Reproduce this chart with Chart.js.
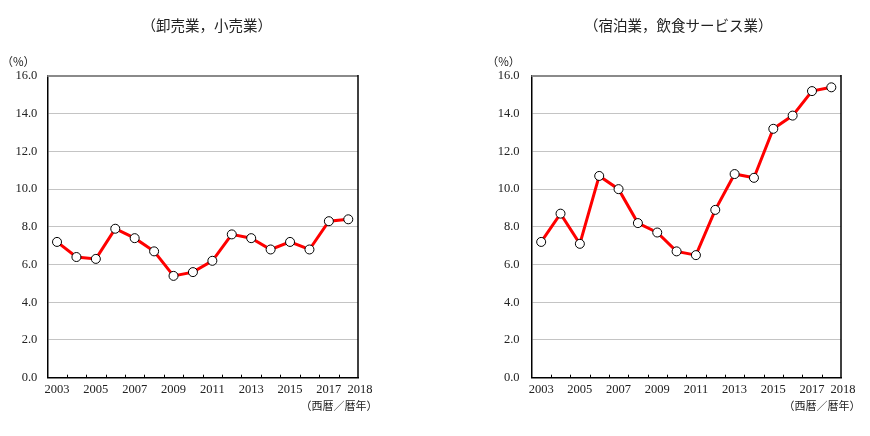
<!DOCTYPE html>
<html><head><meta charset="utf-8">
<script src="https://cdn.jsdelivr.net/npm/chart.js@4.4.1/dist/chart.umd.min.js"></script>
<style>
html,body{margin:0;padding:0;background:#fff;}
#wrap{position:relative;width:870px;height:436px;overflow:hidden;}
canvas{position:absolute;top:0;}
</style>
</head><body>
<div id="wrap">
<canvas id="c1" width="435" height="436" style="left:0"></canvas>
<canvas id="c2" width="435" height="436" style="left:435px"></canvas>
</div>
<script>
// ---- data ----
const years = ['2003','2004','2005','2006','2007','2008','2009','2010','2011','2012','2013','2014','2015','2016','2017','2018'];
const xTickLabels = ['2003','2005','2007','2009','2011','2013','2015','2017','2018'];
const wholesaleRetail = [7.2,6.4,6.3,7.9,7.4,6.7,5.4,5.6,6.2,7.6,7.4,6.8,7.2,6.8,8.3,8.4];
const accommodationFood = [7.2,8.7,7.1,10.7,10.0,8.2,7.7,6.7,6.5,8.9,10.8,10.6,13.2,13.9,15.2,15.4];
const yMin = 0, yMax = 16, yStep = 2;
const titleLeft = '（卸売業，小売業）';
const titleRight = '（宿泊業，飲食サービス業）';
const unitLabel = '（%）';
const axisNote = '（西暦／暦年）';

const jpFont = '"Noto Sans CJK JP", "Noto Sans", sans-serif';
const numFont = '"Liberation Serif", "DejaVu Serif", serif';

function decor(cfg) {
  return {
    id: 'decor',
    afterDraw(chart) {
      const ctx = chart.ctx, a = chart.chartArea, xs = chart.scales.x;
      ctx.save();
      // top border (grey) and right border (black)
      ctx.strokeStyle = '#8a8a8a'; ctx.lineWidth = 2;
      ctx.beginPath(); ctx.moveTo(a.left, a.top); ctx.lineTo(a.right, a.top); ctx.stroke();
      ctx.strokeStyle = '#000'; ctx.lineWidth = 1.5;
      ctx.beginPath(); ctx.moveTo(a.right, a.top - 1); ctx.lineTo(a.right, a.bottom); ctx.stroke();
      // inner tick marks between categories
      ctx.lineWidth = 1;
      for (let i = 1; i < years.length; i++) {
        const x = Math.round((xs.getPixelForValue(i - 1) + xs.getPixelForValue(i)) / 2) + 0.5;
        ctx.beginPath(); ctx.moveTo(x, a.bottom); ctx.lineTo(x, a.bottom - 3); ctx.stroke();
      }
      // x labels
      ctx.fillStyle = '#222';
      ctx.font = '12.5px ' + numFont;
      ctx.textAlign = 'center'; ctx.textBaseline = 'middle';
      xTickLabels.forEach((lab, k) => {
        const idx = years.indexOf(lab);
        let x = xs.getPixelForValue(idx);
        if (k === xTickLabels.length - 1) x = a.right + 2;
        ctx.fillText(lab, x, a.bottom + 12);
      });
      // note
      ctx.font = '11px ' + jpFont;
      ctx.fillText(axisNote, a.right - 19, a.bottom + 28);
      // unit
      ctx.font = '11.5px ' + jpFont;
      ctx.fillText(unitLabel, a.left + cfg.unitDx, a.top - 14);
      // title
      ctx.font = '14.5px ' + jpFont;
      ctx.fillText(cfg.title, (a.left + a.right) / 2 + cfg.titleDx, 25);
      ctx.restore();
    }
  };
}

function makeChart(id, values, cfg) {
  return new Chart(document.getElementById(id), {
    type: 'line',
    data: {
      labels: years,
      datasets: [{
        data: values,
        borderColor: '#ff0000',
        borderWidth: 3,
        tension: 0,
        pointRadius: 4.5,
        pointBorderWidth: 1,
        pointBorderColor: '#000',
        pointBackgroundColor: '#fff'
      }]
    },
    options: {
      responsive: false,
      animation: false,
      events: [],
      layout: { padding: { left: 0, right: cfg.padRight, top: 76, bottom: 0 } },
      plugins: { legend: { display: false }, tooltip: { enabled: false }, title: { display: false } },
      scales: {
        x: {
          type: 'category',
          offset: true,
          grid: { display: false, drawTicks: false },
          border: { display: true, color: '#000', width: 1.5 },
          ticks: { display: false },
          afterFit(s) { s.height = 58.3; }
        },
        y: {
          min: yMin, max: yMax,
          grid: { color: '#c4c4c4', lineWidth: 1, drawTicks: false },
          border: { display: true, color: '#000', width: 1.5 },
          ticks: {
            stepSize: yStep,
            padding: cfg.tickPad,
            color: '#222',
            font: { family: numFont, size: 12.5 },
            callback: v => v.toFixed(1)
          },
          afterFit(s) { s.width = cfg.yWidth; }
        }
      }
    },
    plugins: [decor(cfg)]
  });
}

makeChart('c1', wholesaleRetail, { title: titleLeft, titleDx: 4, padRight: 77, yWidth: 47.3, tickPad: 10, unitDx: -29 });
makeChart('c2', accommodationFood, { title: titleRight, titleDx: -8, padRight: 29, yWidth: 96.5, tickPad: 12, unitDx: -28 });
</script>
</body></html>
